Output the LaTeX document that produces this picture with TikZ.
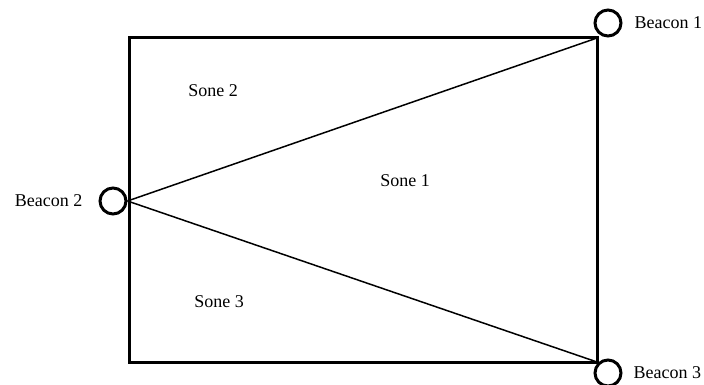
\documentclass[tikz,border=0pt]{standalone}
\usepackage{fontspec}
\setmainfont{Liberation Serif}
\usetikzlibrary{positioning}

\begin{document}
\begin{tikzpicture}[x=1pt,y=-1pt,
  beacon/.style={draw,circle,line width=3pt,minimum size=26pt,inner sep=0pt,fill=white},
  lbl/.style={font=\fontsize{18}{20}\selectfont,inner sep=0pt}]
\useasboundingbox (0,0) rectangle (704,385);
% room outline
\coordinate (nw) at (129,38);
\coordinate (ne) at (597,38);
\coordinate (se) at (597,362);
\draw[line width=3pt] (nw) rectangle (se);
% beacons
\node[beacon] (b1) at (608,23) {};
\node[beacon] (b2) at (113,201) {};
\node[beacon] (b3) at (608,373) {};
\node[lbl,right=12pt of b1] (l1) {Beacon 1};
\node[lbl,left=16pt of b2] (l2) {Beacon 2};
\node[lbl,right=11pt of b3] (l3) {Beacon 3};
% zone borders
\draw[line width=1.5pt] (b2.east) -- (ne);
\draw[line width=1.5pt] (b2.east) -- (se);
\node[lbl] (z1) at (405,181) {Sone 1};
\node[lbl] (z2) at (213,91) {Sone 2};
\node[lbl] (z3) at (219,302) {Sone 3};
\end{tikzpicture}
\end{document}
